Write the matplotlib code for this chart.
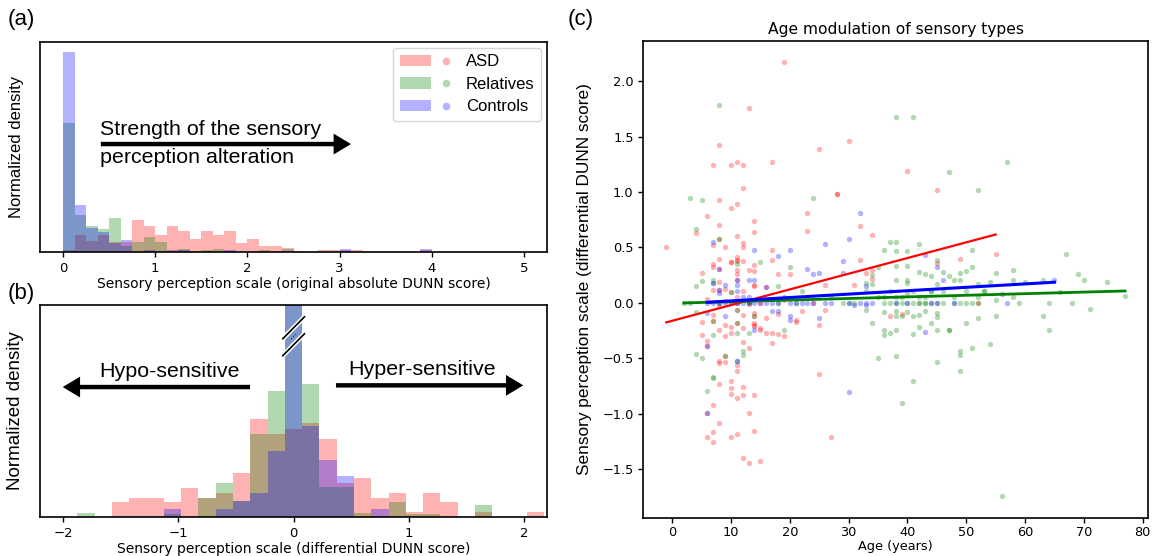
import numpy as np
import matplotlib
matplotlib.use("Agg")
import matplotlib.pyplot as plt
from matplotlib.patches import Patch
from matplotlib.lines import Line2D
from matplotlib.legend_handler import HandlerTuple
from matplotlib import patheffects as pe

# ---------------- data ----------------
groups = ["ASD", "Relatives", "Controls"]
group_colors = ["red", "green", "blue"]

# (a) absolute score histogram, bins of 0.125 from 0 to 4
abs_bin_start = 0.0
abs_bin_width = 0.125
asd_abs = [2.3, 17.3, 11.3, 17.3, 10, 10, 32, 25.7, 17, 25.7, 21.3, 13, 21.3, 17.3, 21.3, 8.7,
           13, 6.3, 6.3, 3.7, 1.2, 0, 1.7, 1.7, 1.7, 1.7, 0, 0, 0, 0, 0, 1.7]
rel_abs = [130, 37.3, 26.3, 23, 34, 6, 9.7, 14.7, 9.7, 0, 3, 0.7, 1.7, 3, 1, 0,
           0, 2, 0, 3, 0, 0, 0, 0, 0, 0, 0, 0, 0, 0, 0, 0]
ctrl_abs = [201, 47.3, 23.7, 20, 9, 12.3, 0, 2.3, 0, 2.3, 1.7, 0, 0, 0, 2.3, 0,
            0, 0, 0, 0, 0, 0, 0, 0, 2.7, 0, 0, 0, 0, 0, 0, 2.7]

# (b) differential score histogram, bins of 0.15 from -1.875 to 2.175
diff_bin_start = -1.875
diff_bin_width = 0.15
asd_diff = [0, 0, 44, 58, 58, 44, 87, 58, 72, 132, 295, 250, 265, 282, 235, 102,
            117, 58, 73, 14, 73, 44, 0, 14, 0, 0, 14]
rel_diff = [12, 0, 0, 0, 0, 8, 0, 56, 102, 48, 250, 378, 700, 400, 90, 90,
            12, 0, 44, 10, 10, 0, 0, 35, 0, 0, 0]
ctrl_diff = [0, 0, 0, 0, 0, 23, 0, 0, 23, 48, 73, 198, 2000, 272, 172, 123,
             0, 23, 0, 0, 0, 0, 0, 0, 0, 0, 0]

# (c) scatter: age (years) and differential DUNN score
asd_age = [19, 13, 8, 7, 10, 11, 12, 17, 12, 8, 10, 11, 6, 4, 8, 14, 14, 23, 23, -1,
           7, 8, 9, 12, 12, 11, 17, 17, 7, 7, 8, 8, 10, 10, 11, 11, 11, 12, 5, 13,
           14, 14, 18, 20, 11, 11, 11, 7, 8, 8, 9, 10, 12, 14, 14, 16,
           6, 9, 13, 13, 15, 19, 11, 8,
           5, 7, 7, 5, 8, 9, 9, 10, 10, 11, 11, 12, 12, 12, 14, 14, 14, 14, 14, 15,
           15, 16, 16, 17, 17, 18, 18, 19, 21, 21, 22, 6, 6, 8, 8, 9, 9, 11, 11, 13,
           8, 10, 10, 10, 11, 12, 12, 14, 7, 6, 13, 8, 6, 7, 7, 10, 11, 14, 12, 13, 15,
           30, 25, 40, 45, 28, 28, 32, 34, 55, 32, 45, 49, 34, 34, 33, 31, 26,
           25, 26, 37, 39, 25, 27, 52, 24]
asd_val = [2.17, 1.76, 1.42, 1.24, 1.24, 1.27, 1.24, 1.27, 1.04, 0.93, 0.86, 0.89, 0.78, 0.63,
           0.70, 0.74, 0.64, 0.81, 0.65, 0.50,
           0.52, 0.58, 0.50, 0.54, 0.50, 0.60, 0.48, 0.39, 0.35, 0.32, 0.40, 0.31, 0.37, 0.37,
           0.41, 0.39, 0.38, 0.38, 0.27, 0.30,
           0.34, 0.29, 0.26, 0.26, 0.30, 0.26, 0.21, 0.12, 0.19, 0.12, 0.13, 0.10, 0.11, 0.15,
           0.16, 0.14,
           0.04, 0.02, 0.01, -0.01, 0.00, 0.03, 0.05, -0.03,
           -0.17, -0.11, -0.16, -0.29, -0.24, -0.20, -0.30, -0.22, -0.27, -0.18, -0.06, -0.11,
           -0.23, -0.35, -0.09, -0.18, -0.20, -0.21, -0.12, -0.23,
           -0.24, -0.14, -0.27, -0.27, -0.36, -0.10, -0.28, -0.30, -0.15, -0.17, -0.07, -0.34,
           -0.39, -0.52, -0.54, -0.48, -0.53, -0.56, -0.61, -0.41,
           -0.73, -0.70, -0.77, -0.82, -0.86, -0.76, -0.83, -0.83, -0.92, -0.99, -0.99, -1.08,
           -1.21, -1.16, -1.25, -1.21, -1.18, -1.15, -1.40, -1.44, -1.42,
           1.46, 1.39, 1.19, 1.02, 0.98, 0.98, 0.69, 0.61, 0.44, 0.39, 0.36, 0.40, 0.30, 0.22,
           0.27, 0.16, 0.16,
           -0.20, -0.06, -0.12, -0.10, -0.64, -1.21, 0.00, 0.00]

rel_age = [8, 3, 5, 4, 8, 15, 20, 11, 4, 5, 7, 7, 10, 18, 22,
           2, 4, 7, 7, 11, 11, 11, 13, 14, 19, 4, 5, 9, 11, 12, 12, 7, 7, 6,
           3, 8, 10, 13, 18, 21,
           38, 41, 57, 47, 52, 24, 37, 38, 42, 36, 38, 40, 51, 67, 45, 34, 35, 42, 43, 44,
           46, 47, 48, 49, 49, 50, 51, 52, 54, 55, 58, 58, 60, 63, 69, 70, 74, 66, 77, 71,
           33, 38, 40, 40, 38, 40, 45, 44, 53, 58, 59, 64, 68,
           31, 36, 37, 38, 39, 40, 41, 42, 42, 43, 43, 44, 45, 46, 48, 49, 50, 51, 52,
           33, 34, 36, 36, 36, 37, 38, 38, 39, 40, 38, 41, 41, 42, 42, 43, 44, 45, 45, 45,
           47, 47, 50, 52, 55, 55, 63, 64, 35, 38, 45, 49, 49, 49, 51, 54, 41, 39, 56,
           29, 30, 27, 33, 34, 35, 36, 37, 38, 39, 40, 41, 42, 43, 44, 46, 48, 50, 52, 53]
rel_val = [1.78, 0.95, 0.93, 0.67, 0.58, 0.37, 0.32, 0.35, 0.15, 0.20, 0.21, 0.18, 0.10, 0.15, 0.11,
           0.00, -0.08, -0.16, -0.29, -0.18, -0.27, -0.06, -0.27, -0.12, -0.24, -0.46, -0.50,
           -0.48, -0.52, -0.43, -0.47, -0.67, -0.68, -0.79,
           0.0, 0.0, 0.0, 0.0, 0.0, 0.0,
           1.68, 1.68, 1.27, 1.18, 1.02, 0.95, 0.55, 0.55, 0.53, 0.48, 0.47, 0.47, 0.48, 0.44,
           0.39, 0.25, 0.32, 0.28, 0.26, 0.24,
           0.28, 0.24, 0.21, 0.21, 0.27, 0.29, 0.32, 0.17, 0.19, 0.27, 0.30, 0.21, 0.19, 0.21,
           0.26, 0.21, 0.19, 0.10, 0.06, -0.05,
           0.18, 0.21, 0.21, 0.18, 0.33, 0.33, 0.17, 0.11, 0.11, 0.05, 0.0, 0.0, 0.0,
           0.0, 0.0, 0.0, 0.0, 0.0, 0.0, 0.0, 0.0, 0.0, 0.0, 0.0, 0.0, 0.0, 0.0, 0.0, 0.0, 0.0,
           0.0, 0.0,
           -0.06, -0.18, -0.08, -0.24, -0.29, -0.27, -0.07, -0.12, -0.12, -0.08, -0.24, -0.12,
           -0.28, -0.11, -0.22, -0.07, -0.18, -0.09, -0.13, -0.24,
           -0.24, -0.24, -0.18, -0.14, 0.03, -0.12, -0.12, -0.24, -0.50, -0.48, -0.53, -0.43,
           -0.47, -0.61, -0.41, -0.37, -0.70, -0.90, -1.74,
           0.0, 0.0, 0.05, 0.11, 0.17, 0.05, 0.05, 0.11, 0.05, 0.05, 0.08, 0.11, 0.05, 0.05,
           0.11, 0.11, 0.05, 0.11, 0.05, 0.11]

ctrl_age = [7, 14, 20, 18, 8, 11, 7, 8, 8, 9, 11, 11, 13, 14, 16, 19, 12, 13,
            6, 9, 14, 17, 18, 20, 20, 6, 11, 6,
            6, 7, 8, 9, 10, 11, 11, 12, 13, 14, 15, 16, 17, 18, 20, 21, 22, 23, 24, 26,
            27, 30, 32, 33, 34, 38, 40, 44, 45, 48, 57,
            32, 26, 30, 29, 43, 45, 23, 24, 25, 29, 46, 65, 33, 56, 25, 31, 33, 43, 30]
ctrl_val = [0.55, 0.48, 0.48, 0.42, 0.31, 0.21, 0.18, 0.12, 0.09, 0.16, 0.16, 0.11, 0.21,
            0.21, 0.14, 0.05, 0.05, 0.05,
            -0.09, -0.12, -0.24, -0.07, -0.07, -0.12, -0.15, -0.39, -0.52, -0.99,
            0.0, 0.0, 0.0, 0.0, 0.0, 0.0, 0.0, 0.0, 0.0, 0.0, 0.0, 0.0, 0.0, 0.0, 0.0, 0.0,
            0.0, 0.0, 0.0, 0.0, 0.0, 0.0, 0.0, 0.0, 0.0, 0.0, 0.0, 0.0, 0.0, 0.0, 0.0,
            0.81, 0.53, 0.58, 0.38, 0.43, 0.32, 0.31, 0.26, 0.27, 0.27, 0.21, 0.21, 0.15,
            0.08, -0.14, -0.02, -0.02, -0.26, -0.80]

# fitted trend lines (end points)
asd_fit_age = [-1, 55]
asd_fit_val = [-0.175, 0.617]
rel_fit_age = [2, 77]
rel_fit_val = [0.0, 0.108]
ctrl_fit_age = [6, 65]
ctrl_fit_val = [0.006, 0.187]

abs_ticks = [0, 1, 2, 3, 4, 5]
diff_ticks = [-2, -1, 0, 1, 2]
age_ticks = [0, 10, 20, 30, 40, 50, 60, 70, 80]
score_ticks = [-1.5, -1.0, -0.5, 0.0, 0.5, 1.0, 1.5, 2.0]

# ---------------- figure ----------------
W, H = 1153, 556
fig = plt.figure(figsize=(W / 100, H / 100), dpi=100)
ARIAL = "Liberation Sans"


def frac(l, t, r, b):
    return [l / W, 1 - b / H, (r - l) / W, (b - t) / H]


ax_a = fig.add_axes(frac(40, 42, 547, 252))
ax_b = fig.add_axes(frac(40, 305, 547, 517))
ax_c = fig.add_axes(frac(643.3, 40.5, 1148, 517.7))

for ax in (ax_a, ax_b, ax_c):
    for s in ax.spines.values():
        s.set_linewidth(1.2)

# ---- (a)
abs_edges = abs_bin_start + abs_bin_width * np.arange(len(asd_abs) + 1)
for vals, col in zip([asd_abs, rel_abs, ctrl_abs], group_colors):
    ax_a.hist(abs_edges[:-1], bins=abs_edges, weights=vals, color=col, alpha=0.3,
              histtype="stepfilled", linewidth=0)
ax_a.set_xlim(-0.25, 5.25)
ax_a.set_ylim(0, 211)
ax_a.set_yticks([])
ax_a.set_xticks(abs_ticks)
ax_a.tick_params(axis="x", labelsize=9.5, width=1.0)
ax_a.set_xlabel("Sensory perception scale (original absolute DUNN score)", fontsize=10, labelpad=1.5)
ax_a.set_ylabel("Normalized density", fontsize=12, family=ARIAL)
ax_a.yaxis.set_label_coords(-0.032, 0.5)

handles = [(Patch(facecolor=c, alpha=0.3, linewidth=0),
            Line2D([], [], marker="o", ls="none", markerfacecolor=c, markeredgewidth=0,
                   alpha=0.3, markersize=5.5)) for c in group_colors]
leg = ax_a.legend(handles, groups, handler_map={tuple: HandlerTuple(ndivide=None, pad=0)},
                  loc="upper right", handlelength=3.7, handletextpad=0.25,
                  prop={"family": ARIAL, "size": 12}, borderaxespad=0.35,
                  edgecolor="0.8", framealpha=0.8, labelspacing=0.45)

ax_a.text(0.118, 0.557, "Strength of the sensory", transform=ax_a.transAxes,
          fontsize=15.4, family=ARIAL, va="baseline", ha="left")
ax_a.text(0.118, 0.422, "perception alteration", transform=ax_a.transAxes,
          fontsize=15.4, family=ARIAL, va="baseline", ha="left")
arrow_style = "simple,head_length=1.25,head_width=1.5,tail_width=0.32"
ax_a.annotate("", xy=(0.6134, 0.514), xytext=(0.120, 0.514), xycoords="axes fraction",
              arrowprops=dict(arrowstyle=arrow_style, color="black", lw=0,
                              mutation_scale=10, shrinkA=0, shrinkB=0))

# ---- (b)
diff_edges = diff_bin_start + diff_bin_width * np.arange(len(asd_diff) + 1)
for vals, col in zip([asd_diff, rel_diff, ctrl_diff], group_colors):
    ax_b.hist(diff_edges[:-1], bins=diff_edges, weights=vals, color=col, alpha=0.3,
              histtype="stepfilled", linewidth=0)
ax_b.set_xlim(-2.2, 2.2)
ax_b.set_ylim(0, 636)
ax_b.set_yticks([])
ax_b.set_xticks(diff_ticks)
ax_b.tick_params(axis="x", labelsize=9.5, width=1.0)
ax_b.set_xlabel("Sensory perception scale (differential DUNN score)", fontsize=10, labelpad=1.5)
ax_b.set_ylabel("Normalized density", fontsize=13.5, family=ARIAL)
ax_b.yaxis.set_label_coords(-0.032, 0.5)

trans_b = ax_b.get_xaxis_transform()
for y0, y1 in [(0.838, 0.947), (0.758, 0.867)]:
    ax_b.plot([-0.098, 0.10], [y0, y1], transform=trans_b, color="black", lw=1.2,
              solid_capstyle="butt",
              path_effects=[pe.Stroke(linewidth=3.4, foreground="white"), pe.Normal()])
ax_b.text(0.005, 0.853, "\u22ef", transform=trans_b, rotation=45, ha="center", va="center",
          fontsize=6, color="black")

ax_b.text(0.2558, 0.660, "Hypo-sensitive", transform=ax_b.transAxes, fontsize=15.4,
          family=ARIAL, ha="center", va="baseline")
ax_b.text(0.7544, 0.668, "Hyper-sensitive", transform=ax_b.transAxes, fontsize=15.4,
          family=ARIAL, ha="center", va="baseline")
ax_b.annotate("", xy=(0.0448, 0.613), xytext=(0.4142, 0.613), xycoords="axes fraction",
              arrowprops=dict(arrowstyle=arrow_style, color="black", lw=0,
                              mutation_scale=10, shrinkA=0, shrinkB=0))
ax_b.annotate("", xy=(0.9533, 0.621), xytext=(0.5838, 0.621), xycoords="axes fraction",
              arrowprops=dict(arrowstyle=arrow_style, color="black", lw=0,
                              mutation_scale=10, shrinkA=0, shrinkB=0))

# ---- (c)
for ages, vals, col in zip([asd_age, rel_age, ctrl_age], [asd_val, rel_val, ctrl_val],
                           group_colors):
    ax_c.scatter(ages, vals, s=15, color=col, alpha=0.3, linewidths=0)
ax_c.plot(asd_fit_age, asd_fit_val, color="red", lw=1.6)
ax_c.plot(rel_fit_age, rel_fit_val, color="green", lw=2.0)
ax_c.plot(ctrl_fit_age, ctrl_fit_val, color="blue", lw=2.2)
ax_c.set_xticks(age_ticks)
ax_c.set_yticks(score_ticks)
ax_c.tick_params(labelsize=9.3, width=1.0)
ax_c.tick_params(axis="x", pad=2.5)
ax_c.set_title("Age modulation of sensory types", fontsize=11.2, pad=5)
ax_c.set_xlabel("Age (years)", fontsize=9.3, labelpad=1)
ax_c.set_ylabel("Sensory perception scale (differential DUNN score)", fontsize=12.4,
                family=ARIAL)
ax_c.yaxis.set_label_coords(-0.102, 0.5)

# panel letters
fig.text(8 / W, 1 - 20 / H, "(a)", fontsize=16, family=ARIAL, va="center", ha="left")
fig.text(8 / W, 1 - 293 / H, "(b)", fontsize=16, family=ARIAL, va="center", ha="left")
fig.text(568 / W, 1 - 20 / H, "(c)", fontsize=16, family=ARIAL, va="center", ha="left")

fig.savefig("out.png", dpi=100)
